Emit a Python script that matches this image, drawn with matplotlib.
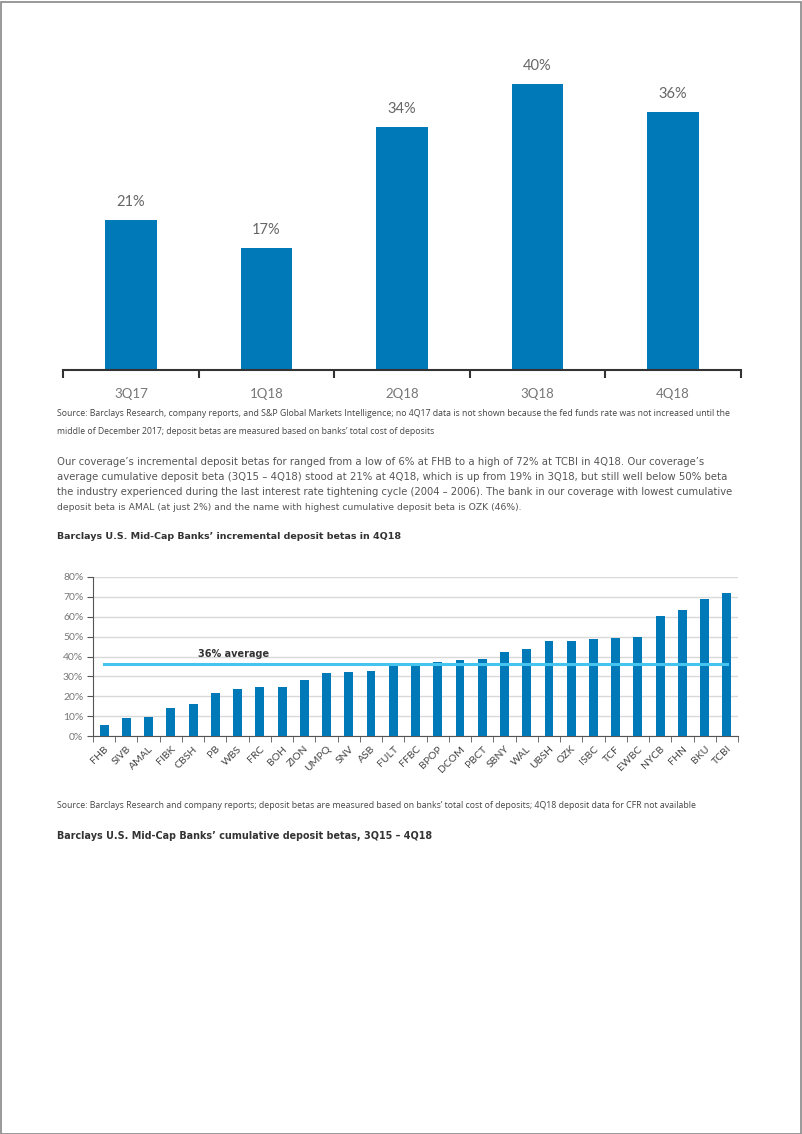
import matplotlib.pyplot as plt
from matplotlib.patches import Rectangle

W, H = 802, 1134

# top chart: average incremental deposit beta by quarter
quarters = ['3Q17', '1Q18', '2Q18', '3Q18', '4Q18']
avg_beta = [21, 17, 34, 40, 36]

# bottom chart: incremental deposit betas in 4Q18
banks = ['FHB', 'SIVB', 'AMAL', 'FIBK', 'CBSH', 'PB', 'WBS', 'FRC', 'BOH', 'ZION',
         'UMPQ', 'SNV', 'ASB', 'FULT', 'FFBC', 'BPOP', 'DCOM', 'PBCT', 'SBNY', 'WAL',
         'UBSH', 'OZK', 'ISBC', 'TCF', 'EWBC', 'NYCB', 'FHN', 'BKU', 'TCBI']
betas = [5.5, 9.3, 9.8, 14.0, 16.0, 21.5, 23.5, 24.5, 24.5, 28.0,
         31.7, 32.3, 32.8, 35.8, 35.9, 37.0, 38.3, 38.6, 42.3, 43.6,
         47.8, 47.8, 48.9, 49.2, 49.6, 60.2, 63.3, 68.7, 71.7]
average = 36

blue = '#0079b8'
light_blue = '#45c4f0'
text_grey = '#666666'

fig = plt.figure(figsize=(W / 100, H / 100), dpi=100)
fig.patches.append(Rectangle((0.5 / W, 0.5 / H), 1 - 2 / W, 1 - 2 / H, transform=fig.transFigure,
                             fill=False, edgecolor='#888888', linewidth=1.2))


def px_axes(x0, y0, x1, y1):
    return fig.add_axes([x0 / W, 1 - y1 / H, (x1 - x0) / W, (y1 - y0) / H])


renderer = fig.canvas.get_renderer()


def fit_text(x, y, s, x_right, size=8, **kw):
    t = fig.text(x / W, 1 - y / H, s, fontsize=size, va='center', ha='left', **kw)
    w = t.get_window_extent(renderer).width
    t.set_fontsize(size * (x_right - x) / w)
    return t


# ---- top chart ----
ax1 = px_axes(63, 48, 741, 370)
ax1.bar(range(len(quarters)), avg_beta, width=0.38, color=blue)
for i, v in enumerate(avg_beta):
    ax1.annotate(f'{v}%', (i, v), xytext=(0, 8), textcoords='offset points',
                 ha='center', va='bottom', fontsize=10.5, color=text_grey, family='Lato')
ax1.set_xlim(-0.5, len(quarters) - 0.5)
ax1.set_ylim(0, 45)
for s in ['left', 'right', 'top']:
    ax1.spines[s].set_visible(False)
ax1.spines['bottom'].set_color('#333333')
ax1.spines['bottom'].set_linewidth(1.5)
ax1.set_yticks([])
ax1.set_xticks(range(len(quarters)))
ax1.set_xticklabels(quarters, fontsize=9.5, color='#777777', family='Lato')
ax1.tick_params(axis='x', which='major', length=0, pad=13)
ax1.set_xticks([i - 0.5 for i in range(len(quarters) + 1)], minor=True)
ax1.tick_params(axis='x', which='minor', length=6, width=1.5, color='#333333')

fit_text(57, 413, 'Source: Barclays Research, company reports, and S&P Global Markets Intelligence; no 4Q17 data '
         'is not shown because the fed funds rate was not increased until the', 728,
         color='#444444', family='Open Sans')
fit_text(57, 431, 'middle of December 2017; deposit betas are measured based on banks\u2019 total cost of deposits',
         432, color='#444444', family='Open Sans')

body = [
    ('Our coverage\u2019s incremental deposit betas for ranged from a low of 6% at FHB to a high of 72% at '
     'TCBI in 4Q18. Our coverage\u2019s', 704),
    ('average cumulative deposit beta (3Q15 \u2013 4Q18) stood at 21% at 4Q18, which is up from 19% in 3Q18, '
     'but still well below 50% beta', 733),
    ('the industry experienced during the last interest rate tightening cycle (2004 \u2013 2006). The bank in '
     'our coverage with lowest cumulative', 740),
    ('deposit beta is AMAL (at just 2%) and the name with highest cumulative deposit beta is OZK (46%).', 525),
]
for k, (line, right) in enumerate(body):
    fit_text(57, 462 + 15 * k, line, right, color='#555555')

fit_text(57, 537, 'Barclays U.S. Mid-Cap Banks\u2019 incremental deposit betas in 4Q18', 399,
         color='#333333', fontweight='bold')

# ---- bottom chart ----
ax2 = px_axes(93, 577, 738, 736)
x = range(len(banks))
ax2.bar(x, betas, width=0.4, color=blue, zorder=3)
ax2.plot([0, len(banks) - 1], [average, average], color=light_blue, linewidth=2.2, zorder=4)
ax2.text(4.2, 41.5, f'{average}% average', fontsize=7, fontweight='bold', color='#333333',
         va='center', ha='left', zorder=5)
ax2.set_xlim(-0.5, len(banks) - 0.5)
ax2.set_ylim(0, 80)
ax2.set_yticks(range(0, 81, 10))
ax2.set_yticklabels([f'{v}%' for v in range(0, 81, 10)], fontsize=7.5, color='#777777', family='Lato')
ax2.yaxis.grid(True, color='#d9d9d9', linewidth=1, zorder=0)
ax2.tick_params(axis='y', length=4, color='#555555', pad=3)
for s in ['right', 'top']:
    ax2.spines[s].set_visible(False)
for s in ['left', 'bottom']:
    ax2.spines[s].set_color('#555555')
ax2.set_xticks(list(x))
ax2.set_xticklabels(banks, rotation=45, ha='right', rotation_mode='anchor', fontsize=7.5,
                    color='#444444', family='Lato')
ax2.tick_params(axis='x', which='major', length=0, pad=6)
ax2.set_xticks([i - 0.5 for i in range(len(banks) + 1)], minor=True)
ax2.tick_params(axis='x', which='minor', length=4, color='#555555')

fit_text(57, 805, 'Source: Barclays Research and company reports; deposit betas are measured based on banks\u2019 '
         'total cost of deposits; 4Q18 deposit data for CFR not available', 694,
         color='#444444', family='Open Sans')
fit_text(57, 836, 'Barclays U.S. Mid-Cap Banks\u2019 cumulative deposit betas, 3Q15 \u2013 4Q18', 429,
         color='#333333', fontweight='bold')

fig.savefig('out.png', dpi=100)
